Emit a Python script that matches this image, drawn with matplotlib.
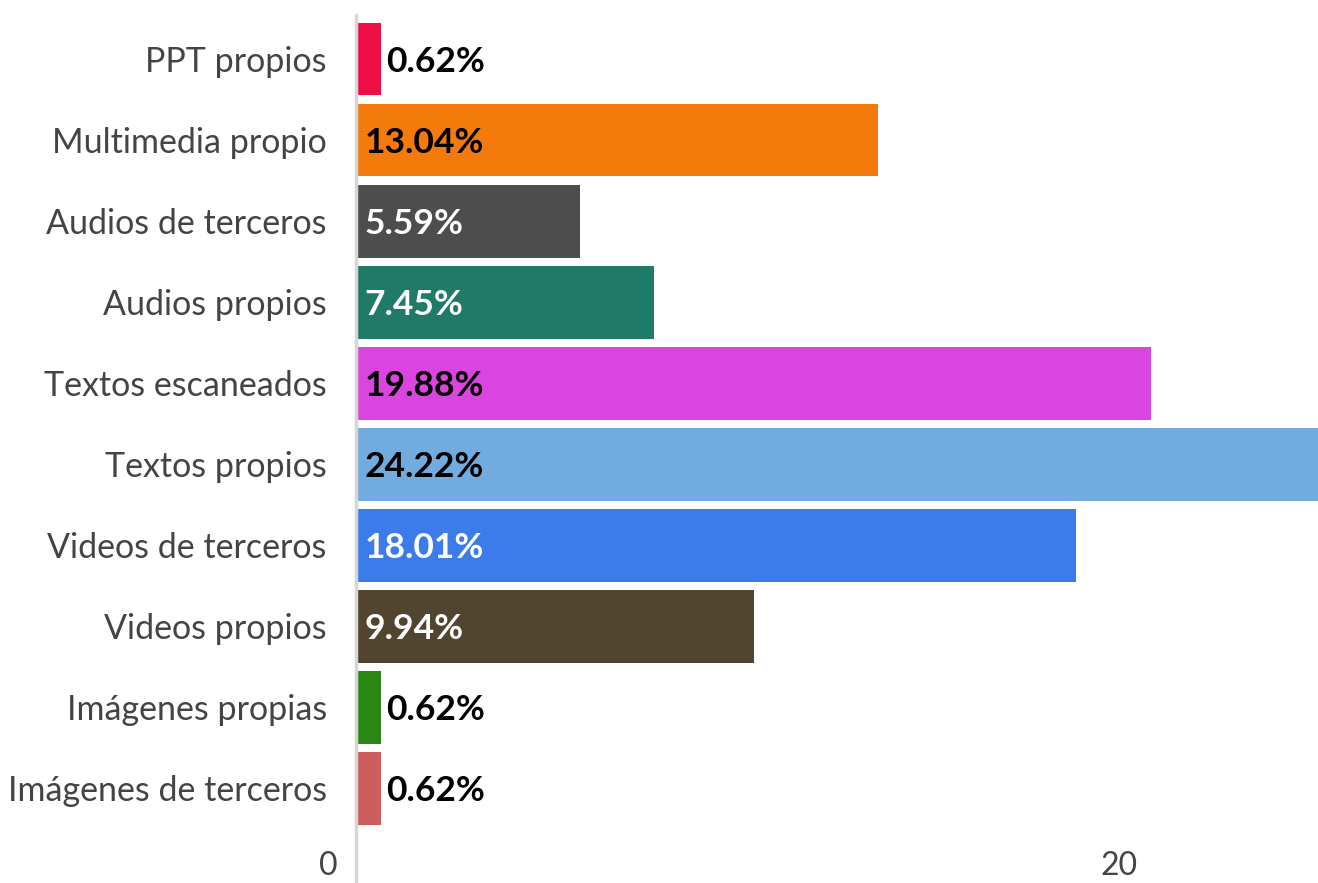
import matplotlib.pyplot as plt

categories = ['PPT propios', 'Multimedia propio', 'Audios de terceros', 'Audios propios',
              'Textos escaneados', 'Textos propios', 'Videos de terceros', 'Videos propios',
              'Imágenes propias', 'Imágenes de terceros']
values = [0.62, 13.04, 5.59, 7.45, 19.88, 24.22, 18.01, 9.94, 0.62, 0.62]
colors = ['#EE1045', '#F57A0C', '#4D4D4D', '#1F7A68', '#D945DE',
          '#72ACDE', '#3C7BEA', '#52452F', '#2B8713', '#CD5C5C']
text_colors = ['black', 'black', 'white', 'white', 'black',
               'black', 'white', 'white', 'black', 'black']
xticks = [0, 20]

plt.rcParams['font.family'] = ['Lato', 'DejaVu Sans']

fig = plt.figure(figsize=(13.18, 8.83), dpi=100)
# axes spans pixel x 356..1318, y 15..883
ax = fig.add_axes([356 / 1318, 0, 1 - 356 / 1318, 868 / 883])

ypos = list(range(len(categories)))
ax.barh(ypos, values, height=0.9, color=colors)
ax.set_xlim(0, 24.05)
ax.set_ylim(10.17, -0.543)

for s in ['top', 'right', 'bottom']:
    ax.spines[s].set_visible(False)
ax.spines['left'].set_color('#d6d6d6')
ax.spines['left'].set_linewidth(2.5)

ax.set_yticks(ypos)
ax.set_yticklabels(categories, fontsize=24.5, color='#444444')
ax.tick_params(axis='y', length=0, pad=21)
ax.set_xticks([])

for x in xticks:
    ax.annotate(str(x), xy=(x, 0), xycoords=('data', 'axes fraction'),
                xytext=(-13, 12), textcoords='offset points',
                ha='right', va='center', fontsize=23, color='#444444')

for y, v, tc in zip(ypos, values, text_colors):
    if v < 2:
        ax.annotate(f'{v:.2f}%', xy=(v, y), xytext=(4, -2), textcoords='offset points',
                    ha='left', va='center', fontsize=25.5, fontweight='bold', color='black')
    else:
        ax.annotate(f'{v:.2f}%', xy=(0, y), xytext=(6, -2), textcoords='offset points',
                    ha='left', va='center', fontsize=25.5, fontweight='bold', color=tc)

fig.savefig('out.png', dpi=100)
